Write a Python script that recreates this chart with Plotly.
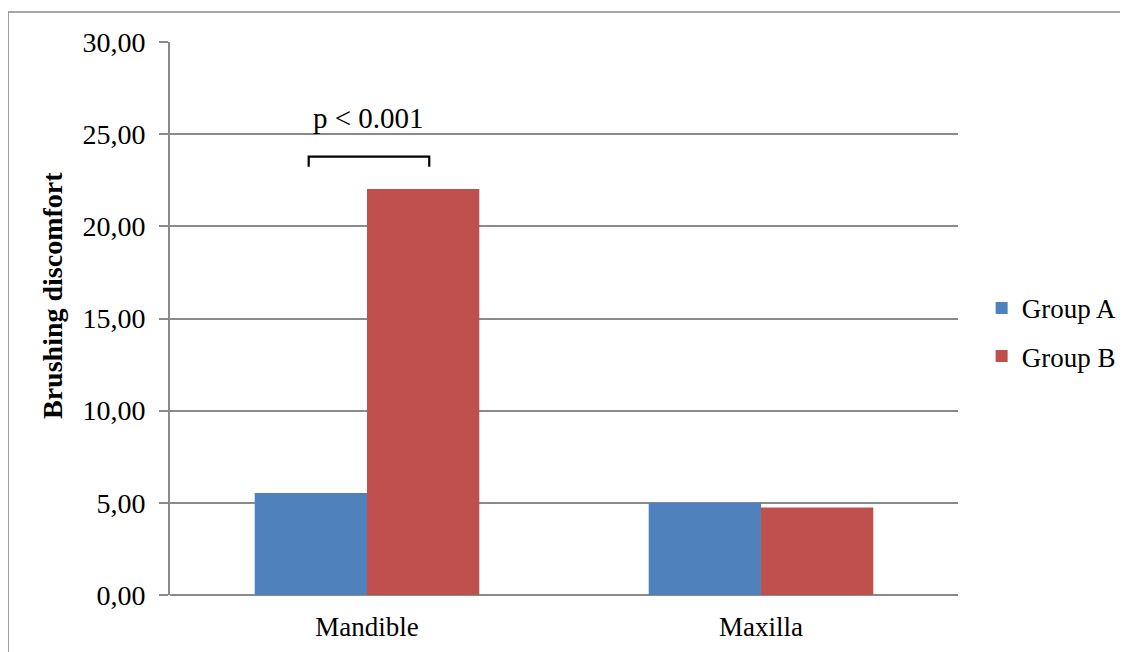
import plotly.graph_objects as go

categories = ["Mandible", "Maxilla"]
group_a = [5.53, 5.00]
group_b = [22.02, 4.75]
series_names = ["Group A", "Group B"]
y_ticks = [0, 5, 10, 15, 20, 25, 30]
y_tick_labels = ["0,00", "5,00", "10,00", "15,00", "20,00", "25,00", "30,00"]
sig_label = "p < 0.001"
sig_level = 23.78
sig_drop = 0.55

FONT = "Liberation Serif"
GRID = "#8a8a8a"
x_pos = list(range(len(categories)))

fig = go.Figure()
fig.add_trace(go.Bar(x=x_pos, y=group_a, name=series_names[0], marker_color="#4F81BD",
                     marker_line_width=0, legendgroup="a"))
fig.add_trace(go.Bar(x=x_pos, y=group_b, name=series_names[1], marker_color="#C0504D",
                     marker_line_width=0, legendgroup="b"))

# significance bracket over the Mandible pair
off = 0.148
fig.add_trace(go.Scatter(
    x=[x_pos[0] - off, x_pos[0] - off, x_pos[0] + off + 0.01, x_pos[0] + off + 0.01],
    y=[sig_level - sig_drop, sig_level, sig_level, sig_level - sig_drop],
    mode="lines", line=dict(color="black", width=2.2), showlegend=False, hoverinfo="skip"))
fig.add_annotation(x=x_pos[0] + 0.005, y=sig_level + 2.1, text=sig_label, showarrow=False,
                   font=dict(family=FONT, size=29, color="black"), xanchor="center", yanchor="middle")

# page has an 8px body margin: plot area spans page x 170..958, y 42..595
fig.update_layout(
    width=1128, height=652,
    margin=dict(l=162, r=178, t=34, b=65),
    paper_bgcolor="white", plot_bgcolor="white",
    barmode="group", bargap=0.43, bargroupgap=0,
    font=dict(family=FONT, size=27, color="black"),
    legend=dict(x=1.03, y=0.475, xanchor="left", yanchor="middle",
                font=dict(family=FONT, size=27), itemwidth=30, tracegroupgap=10,
                itemsizing="constant"),
    xaxis=dict(range=[-0.5, 1.5], tickvals=x_pos, ticktext=categories, showgrid=False,
               zeroline=False, showline=False, ticks="", ticklabelstandoff=13,
               tickfont=dict(family=FONT, size=27)),
    yaxis=dict(range=[0, 30], tickvals=y_ticks, ticktext=y_tick_labels, showgrid=True,
               gridcolor=GRID, gridwidth=1.6, zeroline=True, zerolinecolor=GRID, zerolinewidth=1.8,
               showline=True, linecolor=GRID, linewidth=1.6, ticks="outside", ticklen=9,
               tickcolor=GRID, tickwidth=1.6, ticklabelstandoff=8,
               tickfont=dict(family=FONT, size=28)),
)

fig.add_annotation(xref="paper", yref="paper", x=(52 - 170) / 788, y=(595 - 296) / 553,
                   text="<b>Brushing discomfort</b>", textangle=-90, showarrow=False,
                   font=dict(family=FONT, size=28, color="black"), xanchor="center", yanchor="middle")

# outer chart frame
fig.add_shape(type="rect", xref="paper", yref="paper",
              x0=(8 - 170) / 788, x1=1.4, y0=-0.3, y1=(595 - 12) / 553,
              line=dict(color="#8a8a8a", width=1.6), fillcolor="rgba(0,0,0,0)", layer="below")

fig.write_html("out.html")
